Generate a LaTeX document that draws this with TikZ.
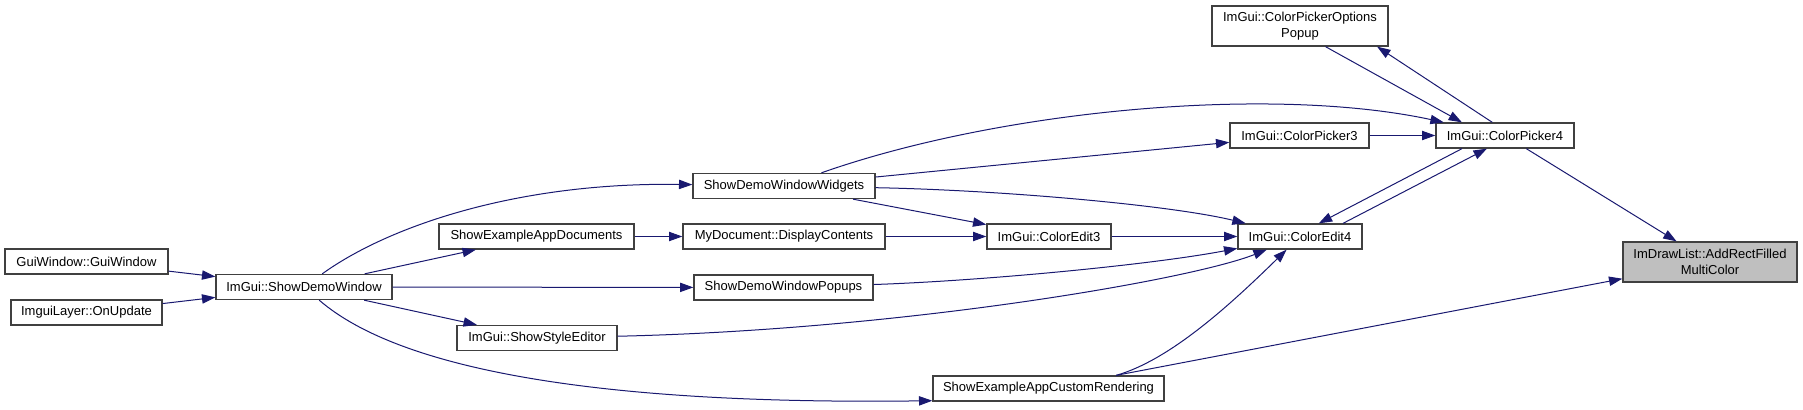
\documentclass[tikz,border=0pt]{standalone}
\usepackage{fontspec}
\setmainfont{Liberation Sans}
\usepackage{xcolor}
\usepackage{tikz}
\usetikzlibrary{arrows.meta}
\definecolor{edgeblue}{HTML}{191970}
\definecolor{boxline}{HTML}{404040}
\definecolor{rootfill}{HTML}{BFBFBF}
\newlength{\pxu}
\setlength{\pxu}{0.75pt}

\begin{document}
\begin{tikzpicture}[x=0.75pt, y=-0.75pt,
  fn/.style={draw=boxline, fill=white, line width=1pt, inner sep=0pt,
             minimum height=25\pxu, align=center,
             font=\fontsize{9.75}{11.5}\selectfont, text=black},
  root/.style={fn, fill=rootfill, minimum height=40\pxu},
  call/.style={-{Triangle[length=10pt, width=7pt]}, line width=0.75pt, color=edgeblue}
]
\useasboundingbox (0,0) rectangle (1803,410);

\node[fn, minimum width=163\pxu] (gw) at (86.5,261.5) {GuiWindow::GuiWindow};
\node[fn, minimum width=151\pxu] (il) at (86.5,312.5) {ImguiLayer::OnUpdate};
\node[fn, minimum width=176\pxu] (sdw) at (304,287) {ImGui::ShowDemoWindow};
\node[fn, minimum width=195\pxu] (doc) at (536.5,236.5) {ShowExampleAppDocuments};
\node[fn, minimum width=160\pxu] (style) at (537,338) {ImGui::ShowStyleEditor};
\node[fn, minimum width=182\pxu] (wid) at (784,186) {ShowDemoWindowWidgets};
\node[fn, minimum width=202\pxu] (disp) at (784,236.5) {MyDocument::DisplayContents};
\node[fn, minimum width=179\pxu] (pop) at (783.5,287.5) {ShowDemoWindowPopups};
\node[fn, minimum width=124\pxu] (ce3) at (1049,236.5) {ImGui::ColorEdit3};
\node[fn, minimum width=231\pxu] (cr) at (1048.5,388.5) {ShowExampleAppCustomRendering};
\node[fn, minimum width=176\pxu, minimum height=40\pxu] (opt) at (1300,26) {ImGui::ColorPickerOptions\\Popup};
\node[fn, minimum width=139\pxu] (cp3) at (1299.5,135.5) {ImGui::ColorPicker3};
\node[fn, minimum width=124\pxu] (ce4) at (1300,236.5) {ImGui::ColorEdit4};
\node[fn, minimum width=138\pxu] (cp4) at (1505,135.5) {ImGui::ColorPicker4};
\node[root, minimum width=174\pxu] (add) at (1710,262) {ImDrawList::AddRectFilled\\MultiColor};

% calls into the demo window
\draw[call] (gw) -- (sdw);
\draw[call] (il) -- (sdw);
\draw[call] (sdw) .. controls (390,225) and (520,182) .. (wid);
\draw[call] (sdw) -- (doc);
\draw[call] (sdw) -- (pop);
\draw[call] (sdw) -- (style);
\draw[call] (sdw) .. controls (400,370) and (600,405) .. (cr.186);
\draw[call] (doc) -- (disp);
\draw[call] (disp) -- (ce3);

% widgets and colour editors
\draw[call] (wid) .. controls (1000,110) and (1270,85) .. (cp4);
\draw[call] (wid) -- (cp3);
\draw[call] (wid) -- (ce3);
\draw[call] (wid) .. controls (1000,190) and (1170,205) .. (ce4);
\draw[call] (ce3) -- (ce4);
\draw[call] (pop) .. controls (980,281) and (1150,265) .. (ce4);
\draw[call] (style) .. controls (900,330) and (1190,280) .. (ce4);
\draw[call] (cr.11) .. controls (1170,360) and (1230,305) .. (ce4);
\draw[call] (cr.11) -- (add);

% colour pickers
\draw[call] (cp3) -- (cp4);
\draw[call] (opt.321) -- (cp4.163);
\draw[call] (cp4.134) -- (opt.345);
\draw[call] (cp4.197) -- (ce4.35);
\draw[call] (ce4.17) -- (cp4.216);
\draw[call] (cp4) -- (add);

\end{tikzpicture}
\end{document}
